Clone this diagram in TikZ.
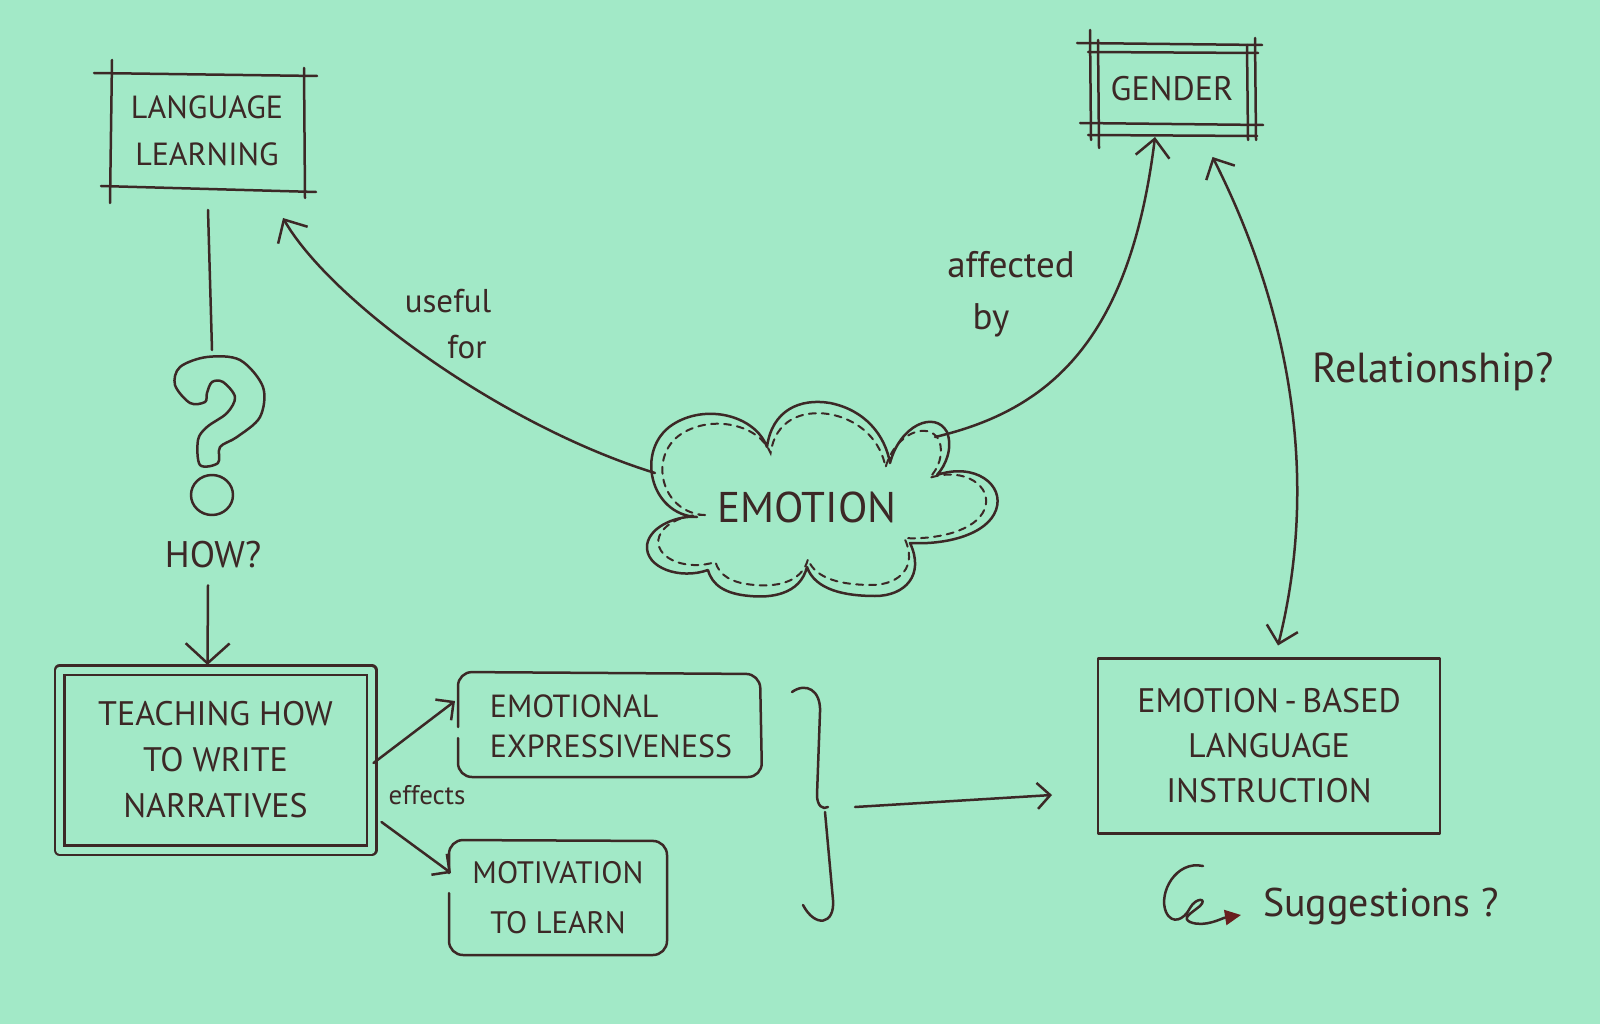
\documentclass[tikz,border=0pt]{standalone}
\usepackage{fontspec}
\setmainfont{PT Sans}
\usetikzlibrary{arrows.meta,calc}
\definecolor{bg}{RGB}{162,233,199}
\definecolor{ink}{RGB}{60,40,38}
\definecolor{tipred}{RGB}{105,30,30}
\tikzset{
  pen/.style={draw=ink, line width=2.5pt, line cap=round, line join=round},
  dpen/.style={draw=ink, line width=2pt, line cap=round, dash pattern=on 7pt off 6pt},
  lbl/.style={text=ink, inner sep=0pt, outer sep=0pt, align=center},
  tipbig/.style={-{Straight Barb[length=20pt,width=44pt]}},
  tipmid/.style={-{Straight Barb[length=18pt,width=34pt]}},
  tipsmall/.style={-{Straight Barb[length=13pt,width=26pt]}},
  tipboth/.style={{Straight Barb[length=16pt,width=32pt]}-{Straight Barb[length=16pt,width=32pt]}},
}
\begin{document}
\begin{tikzpicture}[x=1pt,y=-1pt]
\fill[bg] (0,0) rectangle (1600,1024);
\useasboundingbox (0,0) rectangle (1600,1024);

% ---------- nodes ----------
\node[lbl, minimum width=196pt, minimum height=116pt, font=\fontsize{32}{47}\selectfont] (ll) at (207,131) {LANGUAGE\\LEARNING};
\node[lbl, minimum width=165pt, minimum height=92pt, font=\fontsize{34}{40}\selectfont] (g) at (1172,89) {GENDER};
\node[lbl, font=\fontsize{43}{48}\selectfont] (emo) at (807,507) {EMOTION};
\node[lbl, font=\fontsize{37}{40}\selectfont] (how) at (213,555) {HOW?};
\node[pen, double=bg, double distance=7pt, lbl, minimum width=312pt, minimum height=180pt, font=\fontsize{34}{46}\selectfont] (teach) at (215.5,760) {TEACHING HOW\\TO WRITE\\NARRATIVES};
\node[lbl, align=left, minimum width=302pt, minimum height=105pt, font=\fontsize{32}{40}\selectfont] (emoexp) at (611,726) {EMOTIONAL\\EXPRESSIVENESS};
\node[lbl, minimum width=218pt, minimum height=115pt, font=\fontsize{31}{50}\selectfont] (motiv) at (558,898) {MOTIVATION\\TO LEARN};
\node[pen, lbl, minimum width=342pt, minimum height=175pt, font=\fontsize{34}{45}\selectfont] (ebli) at (1269,746) {EMOTION\,-\,BASED\\LANGUAGE\\INSTRUCTION};
\node[lbl, font=\fontsize{27}{30}\selectfont] (eff) at (427,795) {effects};
\node[lbl, font=\fontsize{33}{36}\selectfont] (uf1) at (448,301) {useful};
\node[lbl, font=\fontsize{33}{36}\selectfont] (uf2) at (467,347) {for};
\node[lbl, font=\fontsize{37}{40}\selectfont] (af1) at (1011,265) {affected};
\node[lbl, font=\fontsize{37}{40}\selectfont] (af2) at (991,320) {by};
\node[lbl, anchor=base, font=\fontsize{42}{44}\selectfont] (rel) at (1433,382) {Relationship?};
\node[lbl, anchor=base west, font=\fontsize{40}{42}\selectfont] (sug) at (1263,916) {Suggestions ?};

% ---------- sketchy frames ----------
% Language learning
\draw[pen] ($(ll.north west)+(-15,0)$) -- ($(ll.north east)+(12,3)$);
\draw[pen] ($(ll.south west)+(-8,-3)$) -- ($(ll.south east)+(11,3)$);
\draw[pen] ($(ll.north west)+(3,-13)$) -- ($(ll.south west)+(1,14)$);
\draw[pen] ($(ll.north east)+(-1,-5)$) -- ($(ll.south east)+(0,9)$);
% Gender (double)
\draw[pen] (1077,43) -- (1262,45);
\draw[pen] (1088,52) -- (1258,53);
\draw[pen] (1080,123) -- (1263,125);
\draw[pen] (1088,135) -- (1257,136);
\draw[pen] (1090,30) -- (1091,140);
\draw[pen] (1098,40) -- (1099,148);
\draw[pen] (1247,45) -- (1248,140);
\draw[pen] (1255,38) -- (1256,140);
% Emotional expressiveness / motivation (rounded, with a gap at the arrow)
\draw[pen, rounded corners=14pt] (458,727) -- (458,672) -- (760,674) -- (762,777) -- (458,777) -- (458,738);
\draw[pen, rounded corners=14pt] (449,873) -- (449,840) -- (667,841) -- (667,955) -- (449,955) -- (449,893);

% ---------- emotion cloud ----------
\draw[pen] (697,517) .. controls (650,515) and (635,450) .. (672,425)
  .. controls (705,403) and (755,415) .. (767,447)
  .. controls (772,410) and (800,398) .. (830,403)
  .. controls (865,410) and (885,435) .. (890,463)
  .. controls (900,425) and (935,410) .. (947,432)
  .. controls (953,448) and (946,465) .. (937,475)
  .. controls (975,462) and (1005,485) .. (996,510)
  .. controls (987,535) and (945,545) .. (910,543)
  .. controls (925,575) and (905,596) .. (875,596)
  .. controls (845,596) and (815,590) .. (807,567)
  .. controls (800,595) and (770,598) .. (750,596)
  .. controls (725,594) and (712,585) .. (708,570)
  .. controls (680,580) and (645,568) .. (647,545)
  .. controls (650,525) and (680,515) .. (697,517) -- cycle;
\begin{scope}[shift={(822,500)}, xscale=0.935, yscale=0.885, shift={(-822,-500)}]
\draw[dpen] (697,517) .. controls (650,515) and (635,450) .. (672,425)
  .. controls (705,403) and (755,415) .. (767,447)
  .. controls (772,410) and (800,398) .. (830,403)
  .. controls (865,410) and (885,435) .. (890,463)
  .. controls (900,425) and (935,410) .. (947,432)
  .. controls (953,448) and (946,465) .. (937,475)
  .. controls (975,462) and (1005,485) .. (996,510)
  .. controls (987,535) and (945,545) .. (910,543)
  .. controls (925,575) and (905,596) .. (875,596)
  .. controls (845,596) and (815,590) .. (807,567)
  .. controls (800,595) and (770,598) .. (750,596)
  .. controls (725,594) and (712,585) .. (708,570)
  .. controls (680,580) and (645,568) .. (647,545)
  .. controls (650,525) and (680,515) .. (697,517) -- cycle;
\end{scope}
\coordinate (cloudL) at (655,473);
\coordinate (cloudR) at (935,437);

% ---------- question mark ----------
\draw[pen] plot[smooth cycle, tension=0.55] coordinates {(175,385) (180,367) (207,357) (240,360) (263,387) (260,417) (237,437) (220,447) (218,463) (200,465) (198,440) (207,427) (227,413) (235,397) (223,382) (212,382) (207,393) (205,402) (190,403)};
\draw[pen] (212,495) ellipse [x radius=21, y radius=20];

% ---------- connectors ----------
\coordinate (llq) at ($(ll.south)+(1,21)$);
\coordinate (qtop) at (212,350);
\draw[pen] (llq) -- (qtop);
\draw[pen, tipbig] ($(how.south)+(-5,17)$) -- ($(teach.north)+(-8,-5)$);

\coordinate (llin) at ($(ll.south east)+(-22,29)$);
\draw[pen, tipmid] (cloudL) .. controls (500,425) and (330,300) .. (llin);

\coordinate (gin) at ($(g.south)+(-17,2)$);
\draw[pen, tipmid] (cloudR) .. controls (1050,410) and (1130,340) .. (gin);

\draw[pen, tipboth] ($(g.south east)+(-42,22)$) .. controls (1285,300) and (1322,470) .. ($(ebli.north)+(9,-13)$);

\draw[pen, tipsmall] ($(teach.east)+(2,3)$) -- ($(emoexp.west)+(-5,-25)$);
\draw[pen, tipsmall] ($(teach.east)+(10,62)$) -- ($(motiv.west)+(2,-25)$);

% brace
\draw[pen] (792,692) .. controls (806,682) and (821,690) .. (820,712) -- (817,795) .. controls (817,806) and (823,810) .. (828,807);
\draw[pen] (825,812) -- (833,900) .. controls (835,925) and (815,928) .. (803,905);
\coordinate (brace) at (828,808);
\draw[pen, tipsmall] ($(brace)+(27,-1)$) -- ($(ebli.west)+(-46,49)$);

% suggestions curl
\coordinate (sugtip) at ($(sug.base west)+(-22,-1)$);
\draw[pen, -{Triangle[length=16pt,width=15pt,color=tipred,fill=tipred]}] (1203,866) .. controls (1176,860) and (1158,893) .. (1166,912)
  .. controls (1172,925) and (1184,920) .. (1190,908)
  .. controls (1196,897) and (1208,898) .. (1200,906)
  .. controls (1190,914) and (1182,918) .. (1190,922)
  .. controls (1205,928) and (1222,918) .. (sugtip);
\end{tikzpicture}
\end{document}
